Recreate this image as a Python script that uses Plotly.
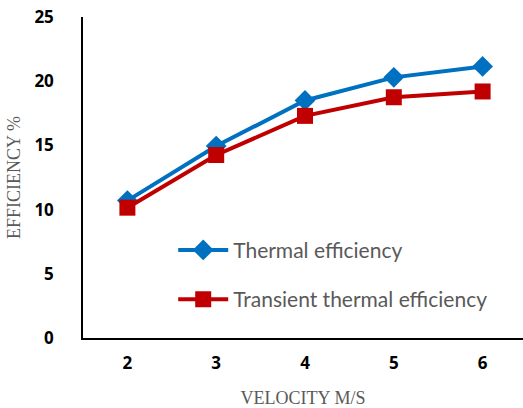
import plotly.graph_objects as go

velocity = [2, 3, 4, 5, 6]
thermal = [10.7, 14.95, 18.5, 20.3, 21.15]
transient = [10.15, 14.25, 17.3, 18.75, 19.2]

fig = go.Figure()
fig.add_trace(go.Scatter(
    x=velocity, y=thermal, name="Thermal efficiency", mode="lines+markers",
    line=dict(color="#0070C0", width=4),
    marker=dict(symbol="diamond", size=16, color="#0070C0"),
    legendgroup="a"))
fig.add_trace(go.Scatter(
    x=velocity, y=transient, name="Transient thermal efficiency", mode="lines+markers",
    line=dict(color="#C00000", width=4),
    marker=dict(symbol="square", size=16, color="#C00000"),
    legendgroup="b"))

fig.update_layout(
    width=523, height=408,
    margin=dict(l=83, r=0, t=17, b=70),
    paper_bgcolor="white", plot_bgcolor="white",
    showlegend=True,
    legend=dict(x=0.205, y=0.337, xanchor="left", yanchor="top",
                font=dict(family="Lato", size=21, color="#595959"),
                bgcolor="rgba(0,0,0,0)", tracegroupgap=19, itemwidth=50,
                traceorder="grouped"),
    xaxis=dict(range=[1.5, 6.455], tickvals=velocity, ticktext=[str(v) for v in velocity],
               showline=True, linecolor="black", linewidth=1.5, showgrid=False,
               zeroline=False, ticks="", ticklabelstandoff=9,
               tickfont=dict(family="Open Sans", size=17, color="black", weight="bold"),
               title=dict(text="VELOCITY M/S", standoff=18,
                          font=dict(family="Liberation Serif", size=18, color="#595959"))),
    yaxis=dict(range=[0, 25], tickvals=[0, 5, 10, 15, 20, 25],
               showline=True, linecolor="black", linewidth=1.5, showgrid=False,
               zeroline=False, ticks="", ticklabelstandoff=24,
               tickfont=dict(family="Open Sans", size=17, color="black", weight="bold"),
               title=dict(text="EFFICIENCY %", standoff=9,
                          font=dict(family="Liberation Serif", size=18, color="#595959"))),
)

fig.write_html("out.html")
